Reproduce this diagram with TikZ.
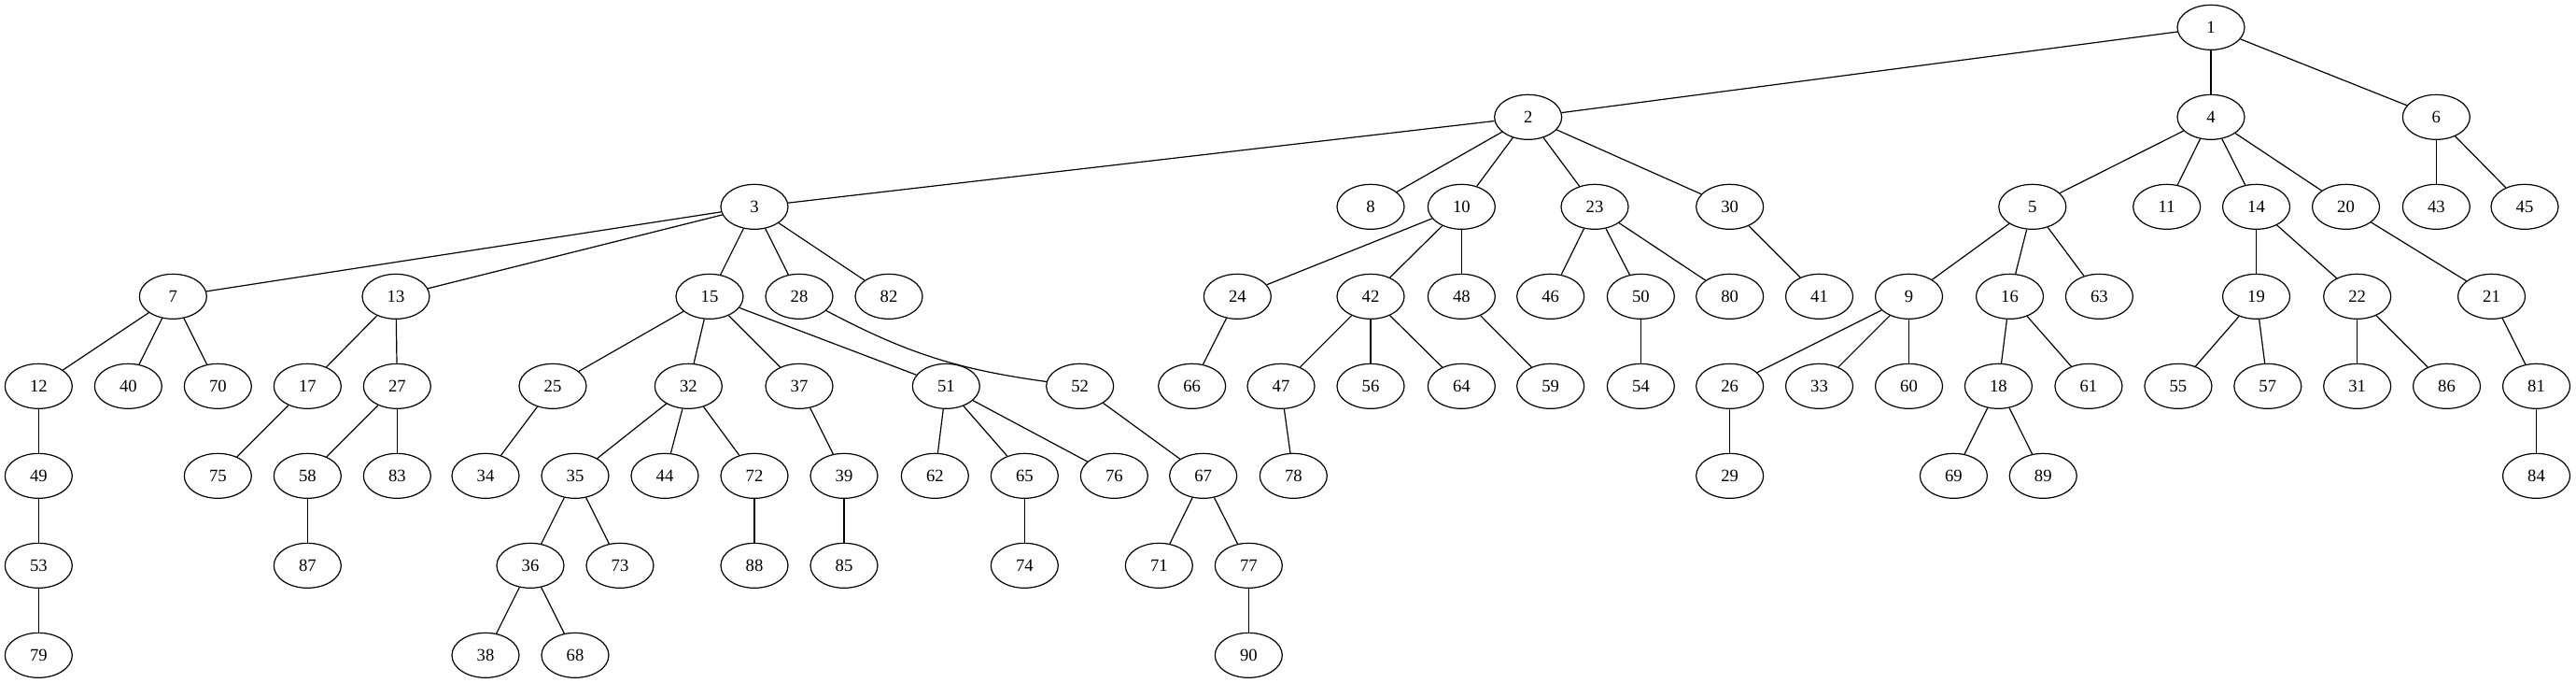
\documentclass[tikz,border=0pt]{standalone}
\usepackage{fontspec}
\setmainfont{Liberation Serif}
\usetikzlibrary{shapes.geometric}
\begin{document}
\begin{tikzpicture}[x=1pt,y=-1pt,
  nd/.style={draw,ellipse,minimum width=54pt,minimum height=36pt,inner sep=0pt,line width=0.9pt,font=\fontsize{14}{16}\selectfont},
  ed/.style={line width=0.9pt}]
\useasboundingbox (0,0) rectangle (2069.25,548.25);
% row 0
\node[nd] (n1) at (1776,22) {1};
% row 1
\node[nd] (n2) at (1227.5,94) {2};
\node[nd] (n4) at (1776,94) {4};
\node[nd] (n6) at (1957,94) {6};
% row 2
\node[nd] (n3) at (606,166) {3};
\node[nd] (n8) at (1101,166) {8};
\node[nd] (n10) at (1174,166) {10};
\node[nd] (n23) at (1281,166) {23};
\node[nd] (n30) at (1389.5,166) {30};
\node[nd] (n5) at (1632.6,166) {5};
\node[nd] (n11) at (1740.5,166) {11};
\node[nd] (n14) at (1812.4,166) {14};
\node[nd] (n20) at (1884.4,166) {20};
\node[nd] (n43) at (1957,166) {43};
\node[nd] (n45) at (2028,166) {45};
% row 3
\node[nd] (n7) at (139,238) {7};
\node[nd] (n13) at (318,238) {13};
\node[nd] (n15) at (570,238) {15};
\node[nd] (n28) at (642,238) {28};
\node[nd] (n82) at (714,238) {82};
\node[nd] (n24) at (994,238) {24};
\node[nd] (n42) at (1101,238) {42};
\node[nd] (n48) at (1174,238) {48};
\node[nd] (n46) at (1245.5,238) {46};
\node[nd] (n50) at (1318,238) {50};
\node[nd] (n80) at (1389.5,238) {80};
\node[nd] (n41) at (1461.4,238) {41};
\node[nd] (n9) at (1533.4,238) {9};
\node[nd] (n16) at (1614.4,238) {16};
\node[nd] (n63) at (1686.3,238) {63};
\node[nd] (n19) at (1812.4,238) {19};
\node[nd] (n22) at (1893.5,238) {22};
\node[nd] (n21) at (2001.4,238) {21};
% row 4
\node[nd] (n12) at (31,310) {12};
\node[nd] (n40) at (103,310) {40};
\node[nd] (n70) at (175,310) {70};
\node[nd] (n17) at (247,310) {17};
\node[nd] (n27) at (319,310) {27};
\node[nd] (n25) at (444,310) {25};
\node[nd] (n32) at (553,310) {32};
\node[nd] (n37) at (642,310) {37};
\node[nd] (n51) at (760,310) {51};
\node[nd] (n52) at (867.5,310) {52};
\node[nd] (n66) at (957.5,310) {66};
\node[nd] (n47) at (1029,310) {47};
\node[nd] (n56) at (1101,310) {56};
\node[nd] (n64) at (1174,310) {64};
\node[nd] (n59) at (1245.5,310) {59};
\node[nd] (n54) at (1318,310) {54};
\node[nd] (n26) at (1389.5,310) {26};
\node[nd] (n33) at (1461.4,310) {33};
\node[nd] (n60) at (1533.4,310) {60};
\node[nd] (n18) at (1605.3,310) {18};
\node[nd] (n61) at (1677.7,310) {61};
\node[nd] (n55) at (1749.7,310) {55};
\node[nd] (n57) at (1821.6,310) {57};
\node[nd] (n31) at (1893.5,310) {31};
\node[nd] (n86) at (1965.4,310) {86};
\node[nd] (n81) at (2037.4,310) {81};
% row 5
\node[nd] (n49) at (31,382) {49};
\node[nd] (n75) at (175,382) {75};
\node[nd] (n58) at (247,382) {58};
\node[nd] (n83) at (319,382) {83};
\node[nd] (n34) at (390,382) {34};
\node[nd] (n35) at (462,382) {35};
\node[nd] (n44) at (534,382) {44};
\node[nd] (n72) at (606,382) {72};
\node[nd] (n39) at (678,382) {39};
\node[nd] (n62) at (751,382) {62};
\node[nd] (n65) at (823,382) {65};
\node[nd] (n76) at (895,382) {76};
\node[nd] (n67) at (966.5,382) {67};
\node[nd] (n78) at (1039,382) {78};
\node[nd] (n29) at (1389.5,382) {29};
\node[nd] (n69) at (1569.3,382) {69};
\node[nd] (n89) at (1641.2,382) {89};
\node[nd] (n84) at (2037.4,382) {84};
% row 6
\node[nd] (n53) at (31,454) {53};
\node[nd] (n87) at (247,454) {87};
\node[nd] (n36) at (426,454) {36};
\node[nd] (n73) at (498,454) {73};
\node[nd] (n88) at (606,454) {88};
\node[nd] (n85) at (678,454) {85};
\node[nd] (n74) at (823,454) {74};
\node[nd] (n71) at (931,454) {71};
\node[nd] (n77) at (1003,454) {77};
% row 7
\node[nd] (n79) at (31,526) {79};
\node[nd] (n38) at (390,526) {38};
\node[nd] (n68) at (462,526) {68};
\node[nd] (n90) at (1003,526) {90};
% edges
\foreach \a/\b in {1/2,1/4,1/6,2/3,2/8,2/10,2/23,2/30,4/5,4/11,4/14,4/20,6/43,6/45,
  3/7,3/13,3/15,3/82,10/24,10/42,10/48,23/46,23/50,23/80,30/41,5/9,5/16,5/63,
  14/19,14/22,20/21,7/12,7/40,7/70,13/17,13/27,15/25,15/32,15/37,15/51,
  24/66,42/47,42/56,42/64,48/59,50/54,9/26,9/33,9/60,16/18,16/61,19/55,19/57,
  22/31,22/86,21/81,12/49,17/75,27/58,27/83,25/34,32/35,32/44,32/72,37/39,
  51/62,51/65,51/76,52/67,47/78,26/29,18/69,18/89,81/84,49/53,58/87,35/36,35/73,
  72/88,39/85,65/74,67/71,67/77,53/79,36/38,36/68,77/90}
  \draw[ed] (n\a) -- (n\b);
\draw[ed] (n3) -- (n28);
\draw[ed] (n28) to[bend right=10] (n52);
\end{tikzpicture}
\end{document}
